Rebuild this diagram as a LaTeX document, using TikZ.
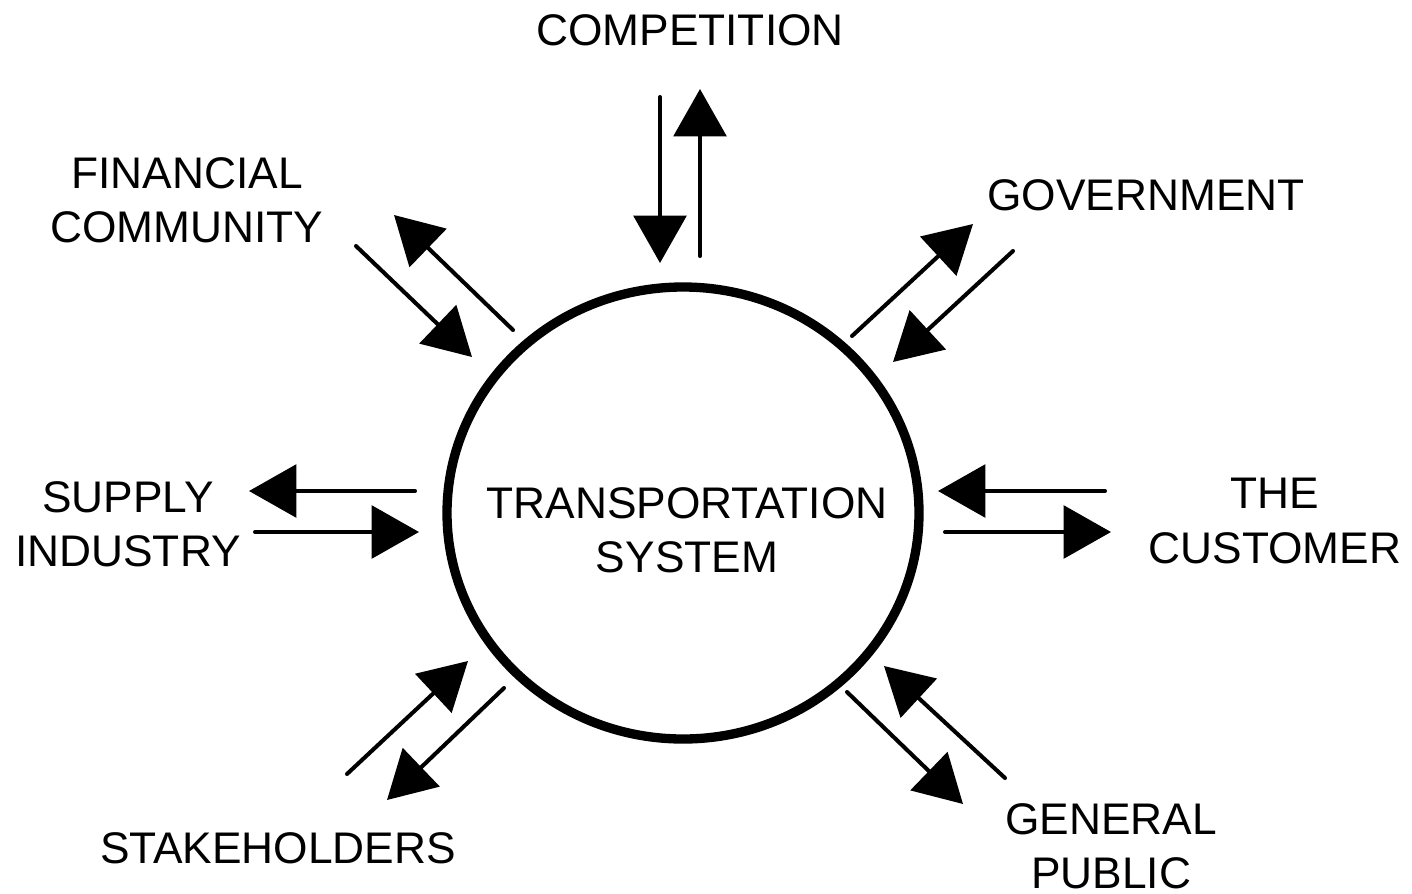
\documentclass[tikz,border=0pt]{standalone}
\usepackage{fontspec}
\setmainfont{Liberation Sans}
\usetikzlibrary{arrows.meta}

\tikzset{
    flow/.style={line width=2.3pt, line cap=round, -{Triangle[length=27pt, width=30pt]}},
    lbl/.style={align=center, font=\fontsize{25.2}{31}\selectfont}
}

\begin{document}
\begin{tikzpicture}[x=0.02cm, y=-0.02cm]
    \useasboundingbox (0,0) rectangle (1412,893);
    % centre
    \draw[line width=5.3pt] (683,513) ellipse [x radius=236, y radius=226];
    \node[lbl] (ts) at (687,530) {TRANSPORTATION\\SYSTEM};
    % labels
    \node[lbl] (comp) at (690,30) {COMPETITION};
    \node[lbl] (fin) at (187,200) {FINANCIAL\\COMMUNITY};
    \node[lbl] (gov) at (1146,195) {GOVERNMENT};
    \node[lbl] (sup) at (128,524) {SUPPLY\\INDUSTRY};
    \node[lbl] (cust) at (1275,521) {THE\\CUSTOMER};
    \node[lbl] (stake) at (278,848) {STAKEHOLDERS};
    \node[lbl] (pub) at (1111,846) {GENERAL\\PUBLIC};
    % arrow ends
    \coordinate (c1) at (660,97);   \coordinate (c2) at (660,263);
    \coordinate (c3) at (700,256);  \coordinate (c4) at (700,89);
    \coordinate (f1) at (356,246);  \coordinate (f2) at (472,357);
    \coordinate (f3) at (513,330);  \coordinate (f4) at (394,215);
    \coordinate (g1) at (852,336);  \coordinate (g2) at (973,224);
    \coordinate (g3) at (1013,251); \coordinate (g4) at (893,362);
    \coordinate (s1) at (415,491);  \coordinate (s2) at (249,491);
    \coordinate (s3) at (255,532);  \coordinate (s4) at (419,532);
    \coordinate (t1) at (1105,491); \coordinate (t2) at (938,491);
    \coordinate (t3) at (945,532);  \coordinate (t4) at (1111,532);
    \coordinate (k1) at (347,774);  \coordinate (k2) at (468,661);
    \coordinate (k3) at (504,688);  \coordinate (k4) at (387,800);
    \coordinate (p1) at (847,692);  \coordinate (p2) at (963,804);
    \coordinate (p3) at (1005,778); \coordinate (p4) at (884,666);
    \foreach \a/\b in {c1/c2, c3/c4, f1/f2, f3/f4, g1/g2, g3/g4, s1/s2, s3/s4,
                       t1/t2, t3/t4, k1/k2, k3/k4, p1/p2, p3/p4}
        \draw[flow] (\a) -- (\b);
\end{tikzpicture}
\end{document}
